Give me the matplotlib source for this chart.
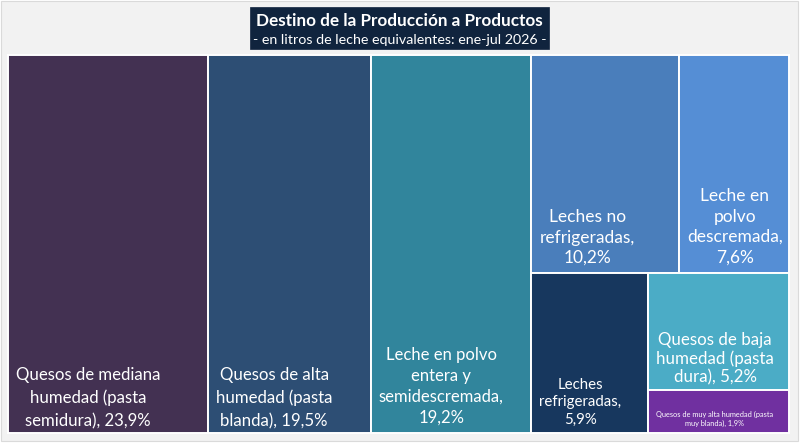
import matplotlib
matplotlib.use("Agg")
import matplotlib.pyplot as plt
from matplotlib.patches import Rectangle

# ---------------- data ----------------
categories = [
    "Quesos de mediana\nhumedad (pasta\nsemidura), 23,9%",
    "Quesos de alta\nhumedad (pasta\nblanda), 19,5%",
    "Leche en polvo\nentera y\nsemidescremada,\n19,2%",
    "Leches no\nrefrigeradas,\n10,2%",
    "Leche en\npolvo\ndescremada,\n7,6%",
    "Leches\nrefrigeradas,\n5,9%",
    "Quesos de baja\nhumedad (pasta\ndura), 5,2%",
    "Quesos de muy alta humedad (pasta\nmuy blanda), 1,9%",
]
values = [23.9, 19.5, 19.2, 10.2, 7.6, 5.9, 5.2, 1.9]
title_line1 = "Destino de la Producción a Productos"
title_line2 = "- en litros de leche equivalentes: ene-jul 2026 -"

# ---------------- style ----------------
colors = ["#433152", "#2d4e74", "#31859c", "#4a7ebb", "#558ed5",
          "#17375e", "#4bacc6", "#7030a0"]
font_sizes = [12.1, 12.1, 12.0, 12.5, 12.5, 10.8, 12.2, 5.3]
line_sp = [1.51, 1.51, 1.38, 1.34, 1.34, 1.34, 1.16, 1.34]
bottom_pad = [7, 7, 10, 10.5, 11, 9, 8, 7]
FONT = "Lato"

# layout structure (slice-and-dice tree: 'h' = side by side, 'v' = stacked)
tree = ("h", [0, 1, 2, ("v", [("h", [3, 4]), ("h", [5, ("v", [6, 7])])])])

def total(node):
    if isinstance(node, int):
        return values[node]
    return sum(total(c) for c in node[1])

def layout(node, x, y, w, h, out):
    if isinstance(node, int):
        out[node] = (x, y, w, h)
        return
    d, kids = node
    tot = total(node)
    pos = 0.0
    for k in kids:
        frac = total(k) / tot
        if d == "h":
            layout(k, x + pos * w, y, w * frac, h, out)
        else:
            layout(k, x, y + pos * h, w, h * frac, out)
        pos += frac

W, H = 800, 443
fig = plt.figure(figsize=(W / 100, H / 100), dpi=100)
fig.patch.set_facecolor("#ffffff")
ax = fig.add_axes([0, 0, 1, 1])
ax.set_xlim(0, W)
ax.set_ylim(H, 0)
ax.axis("off")

# chart background
ax.add_patch(Rectangle((1, 1), W - 3, H - 3, facecolor="#f2f2f2",
                       edgecolor="#dadada", lw=0.8))

# plot region
PX, PY, PW, PH = 8, 55, 781, 378
rects = {}
layout(tree, PX, PY, PW, PH, rects)

for i in range(len(values)):
    x, y, w, h = rects[i]
    ax.add_patch(Rectangle((x, y), w, h, facecolor=colors[i],
                           edgecolor="white", lw=1.4))
    ax.text(x + 8, y + h - bottom_pad[i], categories[i], ha="left",
            va="baseline", multialignment="center", color="white",
            fontsize=font_sizes[i], family=FONT, linespacing=line_sp[i])

# title box
ax.add_patch(Rectangle((250, 7), 299, 42, facecolor="#10243e",
                       edgecolor="#10243e", lw=0.5))
ax.text(399.5, 26, title_line1, ha="center", va="baseline", color="white",
        fontsize=12.3, fontweight="bold", family=FONT)
ax.text(399.5, 44, title_line2, ha="center", va="baseline", color="white",
        fontsize=10.25, family=FONT)

fig.savefig("out.png", dpi=100, facecolor=fig.get_facecolor())
